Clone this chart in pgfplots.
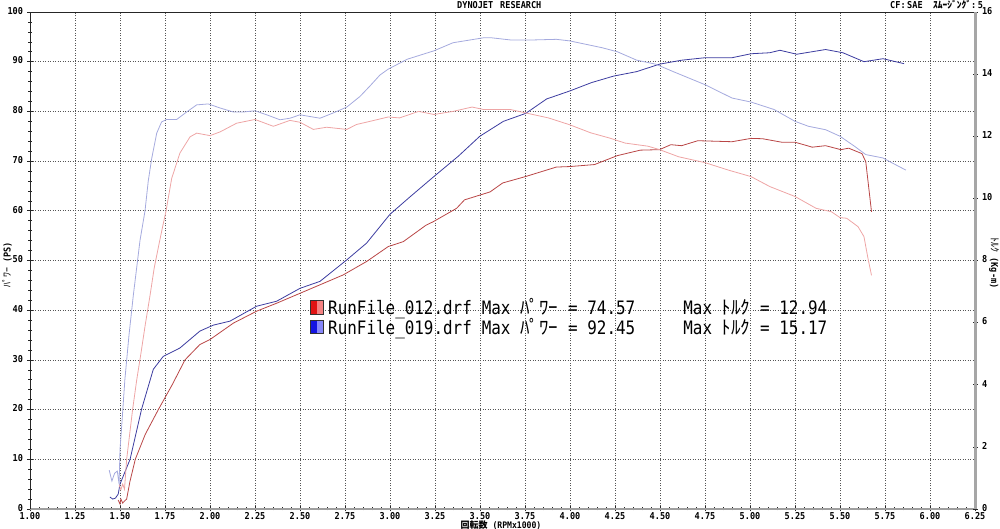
\documentclass[border=0pt]{standalone}
\usepackage{pgfplots}
\pgfplotsset{compat=1.18}
\usepackage{fontspec}
\setmainfont{DejaVu Sans}
\newfontfamily\tickf[FakeStretch=0.9]{DejaVu Sans Mono}
\newfontfamily\legf[FakeStretch=0.86]{DejaVu Sans Mono}
\newfontfamily\jpf{Noto Sans CJK JP}
\definecolor{pwrA}{RGB}{185,70,70}
\definecolor{trqA}{RGB}{238,165,165}
\definecolor{pwrB}{RGB}{60,60,160}
\definecolor{trqB}{RGB}{165,170,222}
\definecolor{gridc}{RGB}{85,85,85}
\begin{document}
\begin{tikzpicture}[x=1pt,y=1pt]
\useasboundingbox (0,0) rectangle (1000,529);
\begin{axis}[
  at={(30pt,20pt)}, anchor=south west, scale only axis,
  width=945pt, height=497pt,
  xmin=1, xmax=6.25, ymin=0, ymax=100,
  axis x line*=bottom, axis y line*=left,
  axis line style={-},
  x axis line style={-, draw=gray!75, line width=2.4pt},
  y axis line style={-, draw=gray!30!black, line width=0.8pt},
  xtick={1,1.25,1.5,1.75,2,2.25,2.5,2.75,3,3.25,3.5,3.75,4,4.25,4.5,4.75,5,5.25,5.5,5.75,6,6.25},
  xticklabels={1.00,1.25,1.50,1.75,2.00,2.25,2.50,2.75,3.00,3.25,3.50,3.75,4.00,4.25,4.50,4.75,5.00,5.25,5.50,5.75,6.00,6.25},
  ytick={0,10,...,100},
  minor x tick num=4, minor y tick num=4,
  tick align=center, major tick length=5pt, minor tick length=3pt,
  tick style={gray!30!black, line width=0.6pt},
  grid=major,
  major grid style={gridc, line width=0.7pt, dash pattern=on 1pt off 1.5pt},
  /pgf/number format/assume math mode=true,
  tick label style={font=\tickf\bfseries\fontsize{9.5}{10}\selectfont, inner sep=1pt},
  xticklabel style={yshift=0.3pt},
  yticklabel style={xshift=-3.3pt, yshift=1.2pt},
]
% Power, RunFile_012 (PS)
\addplot[pwrA, line width=0.8pt] coordinates {
(1.49,1.8)(1.50,1.0)(1.505,2.0)(1.515,1.2)(1.525,1.6)(1.537,2.0)(1.555,5.5)(1.585,10.0)(1.64,15)(1.713,20.0)(1.79,25)(1.861,30.0)(1.944,33.1)(2.0,34.1)(2.13,37.4)(2.259,39.8)(2.37,41.4)(2.5,43.4)(2.63,45.4)(2.74,47.1)(2.87,49.8)(2.99,52.8)(3.074,53.8)(3.2,57.1)(3.24,57.8)(3.37,60.5)(3.414,62.2)(3.556,63.8)(3.626,65.6)(3.754,66.9)(3.924,68.8)(3.998,68.9)(4.136,69.3)(4.263,71.1)(4.39,72.2)(4.497,72.3)(4.56,73.3)(4.62,73.1)(4.71,74.1)(4.90,73.9)(5.006,74.57)(5.07,74.5)(5.176,73.8)(5.25,73.8)(5.346,72.8)(5.42,73.1)(5.505,72.3)(5.548,72.6)(5.622,71.5)(5.643,69.9)(5.675,59.8)
};
% Power, RunFile_019 (PS)
\addplot[pwrB, line width=0.8pt] coordinates {
(1.444,2.4)(1.46,2.0)(1.475,2.2)(1.49,3.0)(1.50,5)(1.556,10.0)(1.62,20.1)(1.685,28.1)(1.74,30.7)(1.833,32.4)(1.944,35.8)(2.019,37.0)(2.111,37.8)(2.259,40.8)(2.37,41.8)(2.5,44.4)(2.611,45.8)(2.759,50.1)(2.87,53.5)(3.0,59.3)(3.111,62.8)(3.244,66.9)(3.38,71)(3.499,75.0)(3.63,78)(3.754,79.6)(3.87,82.5)(3.998,84.1)(4.12,85.8)(4.242,87.1)(4.37,88.0)(4.497,89.5)(4.62,90.3)(4.75,90.8)(4.90,90.8)(5.006,91.6)(5.11,91.8)(5.166,92.3)(5.26,91.5)(5.42,92.45)(5.516,91.8)(5.633,90.0)(5.739,90.6)(5.856,89.6)
};
\end{axis}
\begin{axis}[
  at={(30pt,20pt)}, anchor=south west, scale only axis,
  width=945pt, height=497pt,
  xmin=1, xmax=6.25, ymin=0, ymax=16,
  axis y line*=right, axis x line*=top,
  axis line style={-},
  x axis line style={-, draw=gray!30!black, line width=0.8pt},
  y axis line style={-, draw=gray!70, line width=3pt},
  xtick=\empty,
  ytick={0,2,...,16}, minor y tick num=5,
  tick align=center, major tick length=5pt, minor tick length=3pt,
  tick style={gray!30!black, line width=0.6pt},
  /pgf/number format/assume math mode=true,
  tick label style={font=\tickf\bfseries\fontsize{9.5}{10}\selectfont, inner sep=1pt},
  yticklabel style={xshift=3.3pt, yshift=1.2pt},
]
% Torque, RunFile_012 (kg-m)
\addplot[trqA, line width=0.8pt] coordinates {
(1.495,0.78)(1.505,0.62)(1.515,0.80)(1.525,0.64)(1.537,1.60)(1.57,3.20)(1.593,4.16)(1.615,4.96)(1.64,5.92)(1.667,6.88)(1.69,7.76)(1.715,8.48)(1.735,9.04)(1.756,9.60)(1.787,10.64)(1.833,11.46)(1.889,11.98)(1.926,12.10)(2.0,12.02)(2.056,12.14)(2.148,12.42)(2.25,12.54)(2.352,12.32)(2.444,12.51)(2.5,12.45)(2.574,12.22)(2.648,12.29)(2.76,12.22)(2.815,12.38)(2.889,12.48)(2.99,12.62)(3.053,12.59)(3.159,12.80)(3.244,12.70)(3.35,12.80)(3.456,12.94)(3.52,12.86)(3.669,12.86)(3.754,12.75)(3.88,12.59)(3.998,12.37)(4.115,12.11)(4.221,11.94)(4.306,11.78)(4.433,11.68)(4.497,11.57)(4.603,11.34)(4.75,11.15)(4.88,10.91)(5.006,10.70)(5.11,10.38)(5.25,10.06)(5.367,9.68)(5.452,9.57)(5.5,9.38)(5.537,9.36)(5.6,9.09)(5.633,8.77)(5.654,8.11)(5.675,7.52)
};
% Torque, RunFile_019 (kg-m)
\addplot[trqB, line width=0.8pt] coordinates {
(1.44,1.25)(1.455,0.90)(1.47,1.15)(1.485,1.22)(1.495,0.80)(1.50,1.92)(1.51,2.72)(1.527,4.16)(1.55,5.60)(1.574,6.88)(1.611,8.64)(1.639,9.60)(1.657,10.56)(1.676,11.28)(1.704,12.10)(1.731,12.46)(1.759,12.54)(1.815,12.54)(1.87,12.78)(1.926,13.01)(1.99,13.04)(2.056,12.91)(2.13,12.78)(2.185,12.78)(2.25,12.82)(2.315,12.69)(2.389,12.53)(2.444,12.58)(2.5,12.69)(2.611,12.58)(2.685,12.75)(2.76,12.94)(2.833,13.28)(2.889,13.62)(2.944,13.97)(2.99,14.16)(3.096,14.48)(3.244,14.75)(3.35,15.01)(3.52,15.17)(3.563,15.17)(3.669,15.10)(3.796,15.10)(3.924,15.12)(3.998,15.07)(4.178,14.85)(4.263,14.72)(4.37,14.45)(4.476,14.32)(4.582,14.06)(4.75,13.66)(4.90,13.23)(5.006,13.10)(5.134,12.86)(5.25,12.48)(5.325,12.32)(5.42,12.21)(5.5,12.00)(5.58,11.68)(5.643,11.41)(5.739,11.30)(5.79,11.14)(5.866,10.91)
};
\end{axis}
% titles
\node[anchor=base west, inner sep=0, font=\tickf\bfseries\fontsize{9.5}{10}\selectfont] at (457,520) {DYNOJET};
\node[anchor=base west, inner sep=0, font=\tickf\bfseries\fontsize{9.5}{10}\selectfont] at (500,520) {RESEARCH};
\node[anchor=base west, inner sep=0, font=\tickf\bfseries\fontsize{9.5}{10}\selectfont] at (890,520) {CF:\,SAE};
\node[anchor=base west, inner sep=0] at (933,520) {{\jpf\bfseries\fontsize{9.5}{10}\selectfont ｽﾑｰｼﾞﾝｸﾞ}{\tickf\bfseries\fontsize{9.5}{10}\selectfont:\,5}};
% axis labels
\node[rotate=90, inner sep=0] at (7,264) {{\jpf\fontsize{10}{11}\selectfont ﾊﾟﾜｰ}{\tickf\bfseries\fontsize{9.5}{10}\selectfont\ (PS)}};
\node[rotate=-90, inner sep=0] at (994,266) {{\jpf\fontsize{10}{11}\selectfont ﾄﾙｸ}{\tickf\bfseries\fontsize{9.5}{10}\selectfont\ (Kg-m)}};
\node[inner sep=0] at (501,4) {{\jpf\bfseries\fontsize{9}{10}\selectfont 回転数}{\tickf\bfseries\fontsize{9}{10}\selectfont\ (RPMx1000)}};
% legend swatches
\fill[fill={rgb,255:red,225;green,20;blue,20}] (310.5,215) rectangle (317,228.5);
\fill[fill={rgb,255:red,245;green,130;blue,130}] (317,215) rectangle (323.5,228.5);
\draw[gray!40!black, line width=0.6pt] (310.5,215) rectangle (323.5,228.5);
\fill[fill={rgb,255:red,20;green,20;blue,225}] (310.5,195.5) rectangle (317,209);
\fill[fill={rgb,255:red,135;green,135;blue,250}] (317,195.5) rectangle (323.5,209);
\draw[gray!40!black, line width=0.6pt] (310.5,195.5) rectangle (323.5,209);
% legend text
\tikzset{lg/.style={anchor=base west, inner sep=0, font=\legf\fontsize{18.5}{20}\selectfont},
         lj/.style={anchor=base west, inner sep=0, font=\jpf\fontsize{19}{20}\selectfont}}
\node[lg] at (328,214) {RunFile\_012.drf};
\node[lg] at (481.6,214) {Max};
\node[lj] at (520,214) {ﾊﾟﾜｰ};
\node[lg] at (568,214) {=};
\node[lg] at (587.2,214) {74.57};
\node[lg] at (683.2,214) {Max};
\node[lj] at (721.6,214) {ﾄﾙｸ};
\node[lg] at (760,214) {=};
\node[lg] at (779.2,214) {12.94};
\node[lg] at (328,194) {RunFile\_019.drf};
\node[lg] at (481.6,194) {Max};
\node[lj] at (520,194) {ﾊﾟﾜｰ};
\node[lg] at (568,194) {=};
\node[lg] at (587.2,194) {92.45};
\node[lg] at (683.2,194) {Max};
\node[lj] at (721.6,194) {ﾄﾙｸ};
\node[lg] at (760,194) {=};
\node[lg] at (779.2,194) {15.17};
\end{tikzpicture}
\end{document}
